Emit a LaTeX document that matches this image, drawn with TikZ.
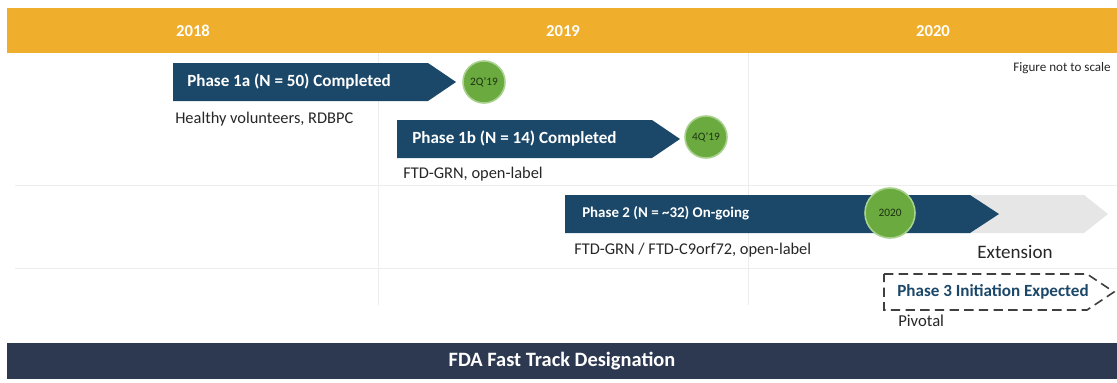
\documentclass[tikz,border=0pt]{standalone}
\usepackage{fontspec}
\setmainfont{Carlito}
\usetikzlibrary{positioning,calc}
\definecolor{hdrorange}{HTML}{EFAE2B}
\definecolor{phasenavy}{HTML}{1B4768}
\definecolor{dotgreen}{HTML}{6AAA3F}
\definecolor{dotrim}{HTML}{A9D18E}
\definecolor{extgrey}{HTML}{E6E6E6}
\definecolor{bandnavy}{HTML}{2D3950}
\definecolor{gridgrey}{HTML}{EDEDED}
\definecolor{dashgrey}{HTML}{3F3F3F}
\definecolor{subtxt}{HTML}{262626}
\definecolor{miletxt}{HTML}{1E3312}

\begin{document}
\begin{tikzpicture}[x=0.75pt,y=-0.75pt,>=latex,
    year/.style={text=white,font=\fontsize{12.5}{14}\selectfont\bfseries},
    phase/.style={text=white,anchor=west,inner sep=0pt,font=\fontsize{12.8}{14}\selectfont\bfseries},
    note/.style={text=subtxt,anchor=west,inner sep=0pt,font=\fontsize{12.3}{14}\selectfont},
    mile/.style={circle,fill=dotgreen,draw=dotrim,line width=1.2pt,inner sep=0pt,text=miletxt,font=\fontsize{8.5}{9}\selectfont}]
    \useasboundingbox (0,0) rectangle (1117,382);

    % header and grid
    \fill[hdrorange] (7,8) rectangle (1117,53);
    \node[year] (y18) at (193,31) {2018};
    \node[year] (y19) at (563,31) {2019};
    \node[year] (y20) at (933,31) {2020};
    \path[draw,gridgrey] (378,53) -- (378,305);
    \path[draw,gridgrey] (748,53) -- (748,305);
    \path[draw,gridgrey] (15,185) -- (1117,185);
    \path[draw,gridgrey] (15,268) -- (1117,268);
    \node[text=subtxt,anchor=east,inner sep=0pt,font=\fontsize{9.8}{11}\selectfont] (scale) at (1111,68) {Figure not to scale};

    % phase 1a
    \path[fill=phasenavy] (173,63) -- (428,63) -- (456,82) -- (428,101) -- (173,101) -- cycle;
    \node[phase] (p1a) at (187,82) {Phase 1a (N = 50) Completed};
    \node[mile,minimum size=31.5] (m1a) at (484,82) {2Q'19};
    \node[note] (n1a) at (175,119) {Healthy volunteers, RDBPC};

    % phase 1b
    \path[fill=phasenavy] (397,120) -- (652,120) -- (680,139) -- (652,158) -- (397,158) -- cycle;
    \node[phase] (p1b) at (412,139) {Phase 1b (N = 14) Completed};
    \node[mile,minimum size=31.5] (m1b) at (706,137) {4Q'19};
    \node[note] (n1b) at (403,174) {FTD-GRN, open-label};

    % phase 2 and extension
    \path[fill=extgrey] (960,195) -- (1084,195) -- (1108,214) -- (1084,233) -- (960,233) -- cycle;
    \path[fill=phasenavy] (565,195) -- (970,195) -- (999,214) -- (970,233) -- (565,233) -- cycle;
    \node[phase,font=\fontsize{11.2}{13}\selectfont\bfseries] (p2) at (582,213) {Phase 2 (N = \textasciitilde32) On-going};
    \node[mile,minimum size=37.5] (m2) at (890,213) {2020};
    \node[note] (n2) at (574,250) {FTD-GRN / FTD-C9orf72, open-label};
    \node[text=subtxt,inner sep=0pt,font=\fontsize{14.3}{16}\selectfont] (ext) at (1015,252) {Extension};

    % phase 3
    \path[draw,dashgrey,line width=1.2pt,dash pattern=on 7pt off 4pt] (884,274) -- (1087,274) -- (1114,292) -- (1087,310) -- (884,310) -- cycle;
    \node[text=phasenavy,inner sep=0pt,font=\fontsize{12.8}{14}\selectfont\bfseries] (p3) at (993,292) {Phase 3 Initiation Expected};
    \node[note,font=\fontsize{12.5}{14}\selectfont] (n3) at (898,321) {Pivotal};

    % fast track band
    \fill[bandnavy] (7,343) rectangle (1117,379);
    \node[text=white,font=\fontsize{15.3}{17}\selectfont\bfseries] (fda) at (562,361) {FDA Fast Track Designation};
\end{tikzpicture}
\end{document}
